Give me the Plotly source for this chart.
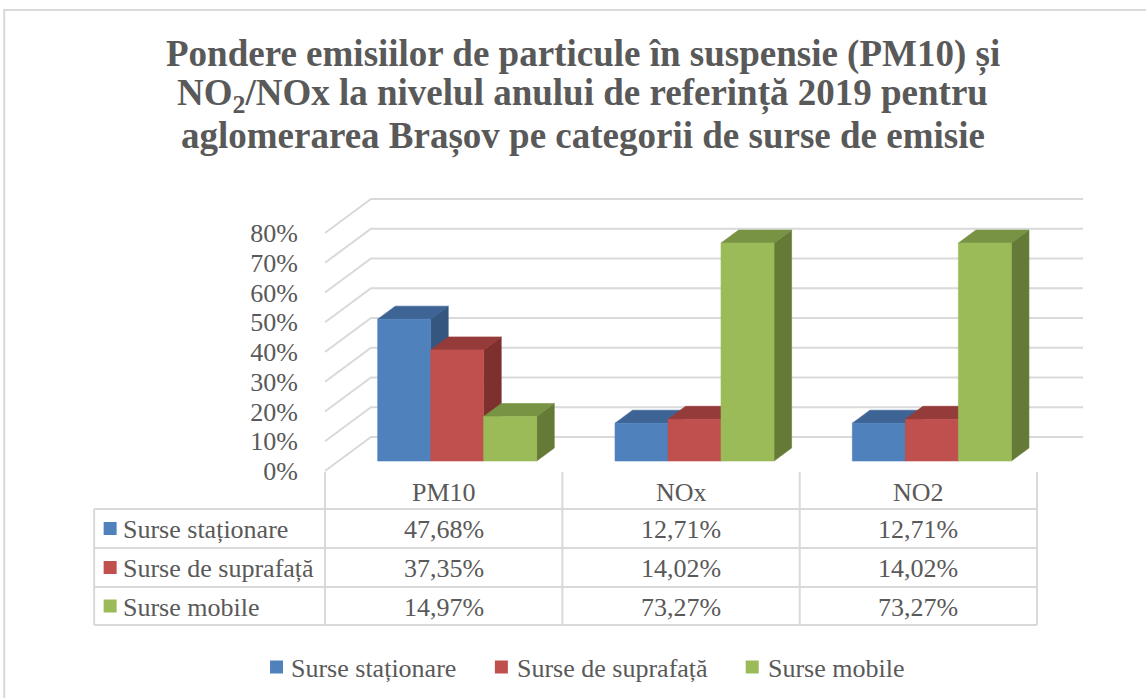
import plotly.graph_objects as go

# ---------------- data ----------------
categories = ["PM10", "NOx", "NO2"]
series_names = ["Surse staționare", "Surse de suprafață", "Surse mobile"]
surse_stationare = [47.68, 12.71, 12.71]
surse_suprafata = [37.35, 14.02, 14.02]
surse_mobile = [14.97, 73.27, 73.27]
y_ticks = [0, 10, 20, 30, 40, 50, 60, 70, 80]
y_tick_labels = ["0%", "10%", "20%", "30%", "40%", "50%", "60%", "70%", "80%"]
title_lines = [
    "Pondere emisiilor de particule în suspensie (PM10) și",
    "NO<sub>2</sub>/NOx la nivelul anului de referință 2019 pentru",
    "aglomerarea Brașov pe categorii de surse de emisie",
]

series_values = [surse_stationare, surse_suprafata, surse_mobile]

# ---------------- style ----------------
front_colors = ["#4F81BD", "#C0504D", "#9BBB59"]
top_colors = ["#3D6494", "#953B39", "#789343"]
side_colors = ["#34567F", "#7D302E", "#657A36"]
grid_color = "#D9D9D9"
text_color = "#595959"
FONT = "Liberation Serif"
FS = 26

W, H = 1146, 698
X0_PX, Y0_PX = 325, 471          # front-left floor corner
PX_PER_CAT = 237.5
PX_PER_PCT = 2.975
DEPTH_X_PX, DEPTH_Y_PX = 46, 34
PAD = 3
DX = DEPTH_X_PX / PX_PER_CAT
DY = DEPTH_Y_PX / PX_PER_PCT
ymax = max(y_ticks)
n = len(categories)

x_range = [-0.5 - PAD / PX_PER_CAT, n - 0.5 + DX + PAD / PX_PER_CAT]
y_range = [-PAD / PX_PER_PCT, ymax + DY + PAD / PX_PER_PCT]
plot_w = (x_range[1] - x_range[0]) * PX_PER_CAT
plot_h = (y_range[1] - y_range[0]) * PX_PER_PCT
L = X0_PX - PAD
B = H - Y0_PX - PAD
R = W - L - plot_w
T = H - B - plot_h


def pxx(px):
    return (px - L) / plot_w


def pxy(py):
    return (H - B - py) / plot_h


def proj(x, v, z):
    return x + z * DX, v + z * DY


fig = go.Figure()

# ---- 3D gridlines (left wall + back wall) ----
gx, gy = [], []
for t in y_ticks:
    for (x, v, z) in [(-0.5, t, 0), (-0.5, t, 1), (n - 0.5, t, 1)]:
        px_, py_ = proj(x, v, z)
        gx.append(px_)
        gy.append(py_)
    gx.append(None)
    gy.append(None)
fig.add_trace(go.Scatter(x=gx, y=gy, mode="lines", line=dict(color=grid_color, width=2),
                         hoverinfo="skip", showlegend=False))

# ---- 3D bars ----
GROUP_W = 0.67
BW = GROUP_W / 3
Z0, Z1 = 0.294, 0.676


def poly(points):
    xs, ys = [], []
    for p in points:
        a, b = proj(*p)
        xs.append(a)
        ys.append(b)
    xs.append(xs[0])
    ys.append(ys[0])
    return xs, ys


for s, vals in enumerate(series_values):
    faces = {"side": ([], []), "top": ([], []), "front": ([], [])}
    for i, v in enumerate(vals):
        x0 = i - GROUP_W / 2 + s * BW
        x1 = x0 + BW
        shapes_pts = {
            "side": [(x1, 0, Z0), (x1, 0, Z1), (x1, v, Z1), (x1, v, Z0)],
            "top": [(x0, v, Z0), (x1, v, Z0), (x1, v, Z1), (x0, v, Z1)],
            "front": [(x0, 0, Z0), (x1, 0, Z0), (x1, v, Z0), (x0, v, Z0)],
        }
        for k, pts in shapes_pts.items():
            xs, ys = poly(pts)
            faces[k][0].extend(xs + [None])
            faces[k][1].extend(ys + [None])
    for k, col in [("side", side_colors[s]), ("top", top_colors[s]), ("front", front_colors[s])]:
        fig.add_trace(go.Scatter(x=faces[k][0], y=faces[k][1], mode="lines", fill="toself",
                                 fillcolor=col, line=dict(color=col, width=0.6),
                                 hoverinfo="skip", showlegend=False, name=series_names[s]))

shapes = []
annotations = []

# ---- outer chart border ----
shapes.append(dict(type="rect", xref="paper", yref="paper",
                   x0=pxx(4), x1=pxx(W + 20), y0=pxy(H + 20), y1=pxy(10),
                   line=dict(color=grid_color, width=2), fillcolor="rgba(0,0,0,0)", layer="below"))

# ---- data table ----
row_tops = [509, 548, 587]
row_bottom = 625
header_top = 472
table_left = 94
for yy in row_tops + [row_bottom]:
    shapes.append(dict(type="line", xref="paper", yref="paper", x0=pxx(table_left),
                       x1=pxx(X0_PX + n * PX_PER_CAT), y0=pxy(yy), y1=pxy(yy),
                       line=dict(color=grid_color, width=2)))
shapes.append(dict(type="line", xref="paper", yref="paper", x0=pxx(table_left), x1=pxx(table_left),
                   y0=pxy(row_tops[0]), y1=pxy(row_bottom), line=dict(color=grid_color, width=2)))
for i in range(n + 1):
    shapes.append(dict(type="line", xref="x", yref="paper", x0=i - 0.5, x1=i - 0.5,
                       y0=pxy(header_top), y1=pxy(row_bottom), line=dict(color=grid_color, width=2)))

for i, c in enumerate(categories):
    annotations.append(dict(text=c, xref="x", yref="paper", x=i, y=pxy(492), showarrow=False,
                            xanchor="center", yanchor="middle",
                            font=dict(family=FONT, size=FS, color=text_color)))

for s, (name, vals) in enumerate(zip(series_names, series_values)):
    yc = (row_tops[s] + (row_tops[s + 1] if s + 1 < len(row_tops) else row_bottom)) / 2
    shapes.append(dict(type="rect", xref="paper", yref="paper", x0=pxx(103.5), x1=pxx(116.5),
                       y0=pxy(yc - 6.5), y1=pxy(yc + 6.5), fillcolor=front_colors[s],
                       line=dict(width=0)))
    annotations.append(dict(text=name, xref="paper", yref="paper", x=pxx(121), y=pxy(yc + 1),
                            showarrow=False, xanchor="left", yanchor="middle",
                            font=dict(family=FONT, size=FS, color=text_color)))
    for i, v in enumerate(vals):
        annotations.append(dict(text=f"{v:.2f}%".replace(".", ","), xref="x", yref="paper", x=i,
                                y=pxy(yc + 1), showarrow=False, xanchor="center", yanchor="middle",
                                font=dict(family=FONT, size=FS, color=text_color)))

# ---- bottom legend ----
legend_sq_x = [270, 495, 746]
legend_txt_x = [289, 515, 766]
legend_y = 667
for s, name in enumerate(series_names):
    shapes.append(dict(type="rect", xref="paper", yref="paper", x0=pxx(legend_sq_x[s]),
                       x1=pxx(legend_sq_x[s] + 13), y0=pxy(legend_y - 6.5), y1=pxy(legend_y + 6.5),
                       fillcolor=front_colors[s], line=dict(width=0)))
    annotations.append(dict(text=name, xref="paper", yref="paper", x=pxx(legend_txt_x[s]),
                            y=pxy(legend_y + 1), showarrow=False, xanchor="left", yanchor="middle",
                            font=dict(family=FONT, size=FS, color=text_color)))

# ---- title ----
title_y = [54, 95, 136]
for line, yy in zip(title_lines, title_y):
    annotations.append(dict(text=f"<b>{line}</b>", xref="paper", yref="paper", x=pxx(583),
                            y=pxy(yy), showarrow=False, xanchor="center", yanchor="middle",
                            font=dict(family=FONT, size=37, color=text_color)))

fig.update_layout(
    width=W, height=H,
    margin=dict(l=L, r=R, t=T, b=B, pad=0),
    paper_bgcolor="white", plot_bgcolor="white",
    showlegend=False,
    xaxis=dict(range=x_range, visible=False, fixedrange=True),
    yaxis=dict(range=y_range, tickvals=y_ticks, ticktext=y_tick_labels, showgrid=False,
               zeroline=False, showline=False, ticks="", ticklabelstandoff=23,
               tickfont=dict(family=FONT, size=FS, color=text_color), fixedrange=True),
    shapes=shapes,
    annotations=annotations,
)

fig.write_html("out.html", post_script="document.body.style.margin='0';",
               config={"displayModeBar": False})
